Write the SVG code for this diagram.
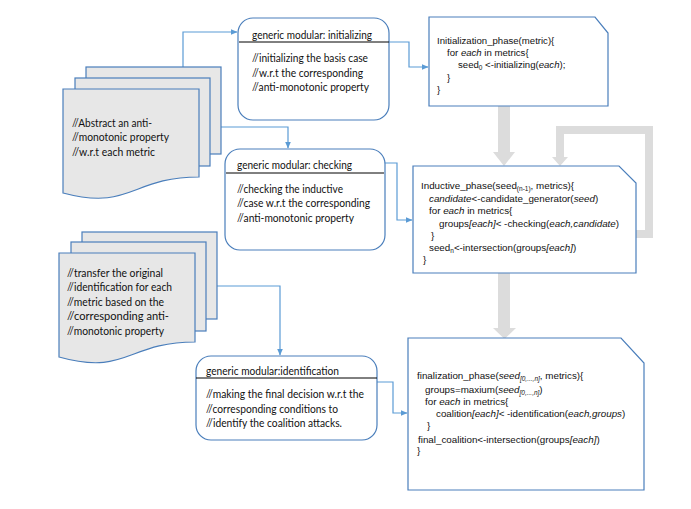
<svg xmlns="http://www.w3.org/2000/svg" width="691" height="509" viewBox="0 0 691 509">
<style>
.box{fill:#fff;stroke:#4a7ebb;stroke-width:1.2}
.doc{fill:#e7e7e7;stroke:#4a7ebb;stroke-width:1.2}
.conn{fill:none;stroke:#5b9bd5;stroke-width:1.2;marker-end:url(#ah)}
.gray{fill:#dcdcdc}
.grayline{fill:none;stroke:#dcdcdc;stroke-width:8}
.sep{stroke:#000;stroke-width:1}
.cal{font-family:Lato,"Open Sans",sans-serif;font-size:11px;fill:#111}
.code{font-family:"Liberation Sans",Arial,sans-serif;font-size:9.8px;fill:#111}
.it{font-style:italic}
.sub{font-size:6.5px}
</style>
<defs>
<marker id="ah" markerWidth="7" markerHeight="6" refX="6.5" refY="3" orient="auto" markerUnits="userSpaceOnUse">
<path d="M0,0 L7,3 L0,6 Z" fill="#5b9bd5"/>
</marker>
</defs>
<rect width="691" height="509" fill="#fff"/>

<g id="gray-arrows">
<rect class="gray" x="498" y="106" width="12" height="47"/>
<polygon class="gray" points="493,152 515,152 504,166"/>
<rect class="gray" x="498" y="273" width="12" height="56"/>
<polygon class="gray" points="493,328 516,328 504.5,339"/>
<polyline class="grayline" points="636,234 649,234 649,130 560,130 560,158"/>
<polygon class="gray" points="552,157 568,157 560,166"/>
</g>

<g id="connectors">
<path class="conn" d="M183,67 V32 H237"/>
<path class="conn" d="M221,127 H288 V148"/>
<path class="conn" d="M389,42 H409 V67 H428"/>
<path class="conn" d="M385,163 H397 V220 H412"/>
<path class="conn" d="M217,286 H280 V355"/>
<path class="conn" d="M377,382 H393 V413 H407"/>
</g>

<g id="doc-abstract">
<rect class="doc" x="86" y="67" width="135" height="87"/>
<rect class="doc" x="75" y="78" width="135" height="88"/>
<path class="doc" d="M63,89 H199 V177 C131,177 131,211 63,193 Z"/>
<text class="cal" x="72" y="127" textLength="80" lengthAdjust="spacingAndGlyphs">//Abstract an anti-</text>
<text class="cal" x="72" y="141" textLength="97" lengthAdjust="spacingAndGlyphs">//monotonic property</text>
<text class="cal" x="72" y="156" textLength="83" lengthAdjust="spacingAndGlyphs">//w.r.t each metric</text>
</g>

<g id="doc-transfer">
<rect class="doc" x="82" y="232" width="135" height="87"/>
<rect class="doc" x="71" y="242" width="135" height="89"/>
<path class="doc" d="M59,253 H195 V342 C127,342 127,376 59,357 Z"/>
<text class="cal" x="67" y="277" textLength="96" lengthAdjust="spacingAndGlyphs">//transfer the original</text>
<text class="cal" x="67" y="291" textLength="105" lengthAdjust="spacingAndGlyphs">//identification for each</text>
<text class="cal" x="67" y="306" textLength="97" lengthAdjust="spacingAndGlyphs">//metric based on the</text>
<text class="cal" x="67" y="320" textLength="102" lengthAdjust="spacingAndGlyphs">//corresponding anti-</text>
<text class="cal" x="67" y="335" textLength="97" lengthAdjust="spacingAndGlyphs">//monotonic property</text>
</g>

<g id="mod-initializing">
<rect class="box" x="238" y="18" width="151" height="102" rx="15"/>
<line class="sep" x1="239" y1="42" x2="389" y2="42"/>
<text class="cal" x="252" y="39" textLength="120" lengthAdjust="spacingAndGlyphs">generic modular: initializing</text>
<text class="cal" x="252" y="62" textLength="116" lengthAdjust="spacingAndGlyphs">//initializing the basis case</text>
<text class="cal" x="252" y="77" textLength="111" lengthAdjust="spacingAndGlyphs">//w.r.t the corresponding</text>
<text class="cal" x="252" y="91" textLength="117" lengthAdjust="spacingAndGlyphs">//anti-monotonic property</text>
</g>

<g id="mod-checking">
<rect class="box" x="225" y="149" width="160" height="101" rx="15"/>
<line class="sep" x1="226" y1="173" x2="384" y2="173"/>
<text class="cal" x="237" y="169" textLength="115" lengthAdjust="spacingAndGlyphs">generic modular: checking</text>
<text class="cal" x="237" y="193" textLength="106" lengthAdjust="spacingAndGlyphs">//checking the inductive</text>
<text class="cal" x="237" y="207" textLength="133" lengthAdjust="spacingAndGlyphs">//case w.r.t the corresponding</text>
<text class="cal" x="237" y="222" textLength="117" lengthAdjust="spacingAndGlyphs">//anti-monotonic property</text>
</g>

<g id="mod-identification">
<rect class="box" x="196" y="356" width="181" height="84" rx="15"/>
<line class="sep" x1="196" y1="378" x2="377" y2="378"/>
<text class="cal" x="206" y="375" textLength="133" lengthAdjust="spacingAndGlyphs">generic modular:identification</text>
<text class="cal" x="206" y="398" textLength="158" lengthAdjust="spacingAndGlyphs">//making the final decision w.r.t the</text>
<text class="cal" x="206" y="413" textLength="132" lengthAdjust="spacingAndGlyphs">//corresponding conditions to</text>
<text class="cal" x="206" y="427" textLength="136" lengthAdjust="spacingAndGlyphs">//identify the coalition attacks.</text>
</g>

<g id="initialization-phase">
<polygon class="box" points="429,17 595,17 608,33 608,106 429,106"/>
<text class="code" x="437" y="44" style="font-size:9.6px">Initialization_phase(metric){</text>
<text class="code" x="447" y="56" style="font-size:9.6px">for <tspan class="it">each</tspan> in metrics{</text>
<text class="code" x="458" y="68" style="font-size:9.6px">seed<tspan class="sub" dy="2">0</tspan><tspan dy="-2"> &lt;-initializing(</tspan><tspan class="it">each</tspan>);</text>
<text class="code" x="447" y="81" style="font-size:9.6px">}</text>
<text class="code" x="437" y="93" style="font-size:9.6px">}</text>
</g>

<g id="inductive-phase">
<polygon class="box" points="413,166 619,166 636,183 636,273 413,273"/>
<text class="code" x="421" y="189">Inductive_phase(seed<tspan class="sub" dy="2">(n-1)</tspan><tspan dy="-2">, metrics){</tspan></text>
<text class="code" x="429" y="202"><tspan class="it">candidate</tspan>&lt;-candidate_generator(<tspan class="it">seed</tspan>)</text>
<text class="code" x="429" y="214">for <tspan class="it">each</tspan> in metrics{</text>
<text class="code" x="439" y="227">groups<tspan class="it">[each]</tspan>&lt; -checking(<tspan class="it">each,candidate</tspan>)</text>
<text class="code" x="431" y="239">}</text>
<text class="code" x="429" y="251">seed<tspan class="sub" dy="2">n</tspan><tspan dy="-2">&lt;-intersection(groups</tspan><tspan class="it">[each]</tspan>)</text>
<text class="code" x="423" y="263">}</text>
</g>

<g id="finalization-phase">
<polygon class="box" points="408,338 621,338 644,363 644,490 408,490"/>
<text class="code" x="417" y="379">finalization_phase(<tspan class="it">seed</tspan><tspan class="sub it" dy="2">[0,...,n]</tspan><tspan dy="-2">, metrics){</tspan></text>
<text class="code" x="425" y="393">groups=maxium(<tspan class="it">seed</tspan><tspan class="sub it" dy="2">[0,...,n]</tspan><tspan dy="-2">)</tspan></text>
<text class="code" x="425" y="405">for <tspan class="it">each</tspan> in metrics{</text>
<text class="code" x="436" y="417">coalition<tspan class="it">[each]</tspan>&lt; -identification(<tspan class="it">each,groups</tspan>)</text>
<text class="code" x="427" y="429">}</text>
<text class="code" x="418" y="443">final_coalition&lt;-intersection(groups<tspan class="it">[each]</tspan>)</text>
<text class="code" x="417" y="454">}</text>
</g>
</svg>
